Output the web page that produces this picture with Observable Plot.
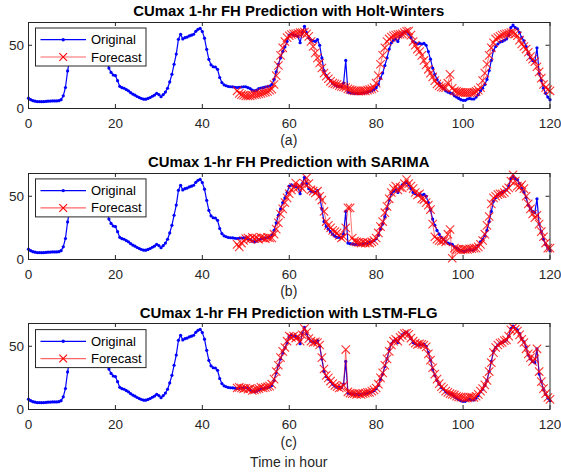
<!DOCTYPE html>
<html><head><meta charset="utf-8">
<script src="https://cdn.jsdelivr.net/npm/d3@7"></script>
<script src="https://cdn.jsdelivr.net/npm/@observablehq/plot@0.6"></script>
<style>
body{margin:0;background:#fff;}
#root{position:relative;width:561px;height:474px;overflow:hidden;background:#fff;font-family:"Liberation Sans",Arial,sans-serif;}
#root svg.panel{position:absolute;left:0;}
#overlay{position:absolute;left:0;top:0;pointer-events:none;}
</style></head><body><div id="root"></div>
<script>
// ---- data (hours, sampled every 0.5 h) ----
const step = 0.5;
const xTicks = [0, 20, 40, 60, 80, 100, 120];
const yTicks = [0, 50];
const titles = ["CUmax 1-hr FH Prediction with Holt-Winters",
                "CUmax 1-hr FH Prediction with SARIMA",
                "CUmax 1-hr FH Prediction with LSTM-FLG"];
const subLabels = ["(a)", "(b)", "(c)"];
const xLabel = "Time in hour";
const seriesNames = ["Original", "Forecast"];

// Original series, t = 0 .. 120
const original = [
 8.2,7,6.2,5.8,5.5,5.5,5.4,5.5,5.6,5.8,5.9,6,6,6,6.2,7,10,16.6,29.7,40,
 47,51,54,55,56,57,58,60,62,59,58,57,56,54,50,44,38,32,28.5,26.5,
 26,22,17.5,16.5,16,15,14,12.5,11.4,10.5,9.5,8.6,7.9,7.4,7.4,8,8.7,9.7,10.6,12,
 11,9.3,11,13,16,21,27,35,43,54.7,58.7,55,56,56.5,57.4,58,58.7,61,62.6,63.3,
 60.8,55.6,46.8,38.9,34.5,33,32.8,31,24.5,20.5,18.7,18,17.4,17.2,17.1,16.8,16.6,16.8,17,17.2,
 17.2,16.5,15.8,14.5,14,14.5,15.8,16.2,16.5,17,17.4,17.8,19,23,29,35,40,45,48.7,53,
 58,59,58,57.8,57,52,60,65,60,56,54,53.5,53,54.5,50,40,30,26,24,22,
 20,18.5,17.5,17.5,17.4,20,38,13,12.5,12.3,12,12,11.8,12,12.3,12.5,13,13.5,14,15,
 16.5,19,24,28,34,40,47,52,54,55,53,57,59,60.5,61,59,56,53,52,51,
 51.5,51,51.5,50,45,39,32,27,23,20,17.4,16,14,13,12.3,12,10,9,8,7,
 6.5,6.5,7.5,8,7.5,7.5,9,11,14,16,19,23,30,38,46,49,51,52.5,53,54,
 55,58,64,66,64,63,60,56,53.5,49,43,40,38,37,48,28,22,16,12,9,
 7
];
// Forecasts, t = 48 .. 120
const holtWinters = [
 14,12,11,10.5,10,10,10,10.5,11,11.2,11.5,12,12.5,13,13.5,14.5,15.3,19,26,34,
 42,48,53,56,57.5,58.5,59,59,59.5,60,60,60.5,59,57,53,49,44,40,36,32,
 28,25.5,23.5,21.5,20,19.5,19,18,17.5,17,16.6,15.5,15,14.5,14,14,13.8,13.8,14,14,
 14.5,15,15.5,16.5,20,26,35,42,48,53,55,56.5,57.4,58,58.5,58.7,59,60,61,61.3,
 58,53,50,47,45,42,38,34.5,31,28,25,22,19.5,18,17,16.6,16.5,20,27,16,
 14,13.5,13,12.8,12.6,12.5,12.5,12.6,12.6,12.8,13.5,14.5,16.5,22,28,35,42,48,52,55,
 56,57,58,58.7,59,59.5,60,60,59,57.5,54,51,49,47,44.5,41,39,37,33,29,
 24,19,16.5,15,14
];
const sarima = [
 12,10,13,15,16.5,17,16,17.5,16.5,17,16,17.5,17,16.5,17.5,17,17,20,24,29,
 36,40,45,48.7,52,55,57,60.5,57,58,56,60,64.5,60,55,54,52.6,54,50,47,
 38,30,27,25,23,22,21,19,17,18,25,40.8,40.8,17,14.5,14,13.5,13,13.5,13,
 13.5,13,14,15,17,21,26,30,37,42,48,53,56,58,55,57,56.6,60,63.2,60,
 58,56,53,51,52,48,47.4,45,43,39.5,28,18,16,15,14.5,15,14,20,23.7,1,
 9,8,8,7.5,8,8,7.9,8.5,8.5,9,9,10,12,15,20,27,34,44,48.7,50,
 51.3,52,52,53,55,56.6,62,67,62,58,57,59,56,50,44,40,36,33,35,28,
 22,18,13,9,9
];
const lstmFlg = [
 17,17.5,17,16.5,17,16,16.5,15,15.5,16,16.5,17.5,17,17.5,18,18.5,20,24,30,35,
 41,46,49,54,58,57,58,56.5,57.5,54,59,64,61,56,54,53,53.5,53,51,41,
 32,27,25,22.5,20.5,19,18,17,17.5,19,47.4,14,13,12.5,12.5,12,12.5,12,12.5,13,
 13.5,13.5,14.5,15.5,17,20,25,29,35,40,46,51,54,55.5,54,57,58.5,60,60.5,59.5,
 56.5,54,52.5,51.5,52,51.5,51,49.5,44,39,33,28,24,20.5,18,16.5,14.5,13.5,12.5,12,
 11.5,10.5,10,9.8,9.5,9,9.2,9.8,9.8,9.5,10.5,12,14.5,16.5,19.5,23,30,37,45,49,
 51,52.5,53,54.5,55,58,63,65,63.5,62,59,55.5,53,48,44,41,38,40,48,30,
 22,16.5,12.5,9.5,8
];

// ---- layout ----
const W = 561, H = 474;
const mL = 28, mR = 11.5, mT = 4, mB = 26, plotH = 86;
const axesTops = [21.7, 172.6, 323.3];
const BLUE = "#0000ff", RED = "#ff0000", AX = "#262626";
const FONT = '"Liberation Sans", Arial, sans-serif';

const origRows = original.map((v, i) => ({t: i * step, v}));
const forecasts = [holtWinters, sarima, lstmFlg];

const root = document.getElementById("root");
const frameW = W - mL - mR;

forecasts.forEach((fc, k) => {
  const fcRows = fc.map((v, i) => ({t: 48 + i * step, v}));
  const svg = Plot.plot({
    width: W, height: mT + plotH + mB,
    marginTop: mT, marginBottom: mB, marginLeft: mL, marginRight: mR,
    x: {domain: [0, 120], label: null},
    y: {domain: [0, 68], label: null},
    style: {fontFamily: FONT, fontSize: "13.5px", color: AX, background: "transparent", overflow: "visible"},
    marks: [
      Plot.line(origRows, {x: "t", y: "v", stroke: BLUE, strokeWidth: 1.2}),
      Plot.dot(origRows, {x: "t", y: "v", r: 1.6, fill: BLUE, stroke: null}),
      Plot.line(fcRows, {x: "t", y: "v", stroke: RED, strokeOpacity: 0.55, strokeWidth: 1}),
      Plot.dot(fcRows, {x: "t", y: "v", symbol: "times", r: 3.9, stroke: RED, strokeOpacity: 0.8, strokeWidth: 1.1}),
      Plot.frame({stroke: AX, strokeWidth: 1}),
      Plot.tickX(xTicks, {x: d => d, insetTop: plotH - 4, stroke: AX}),
      Plot.tickX(xTicks, {x: d => d, insetBottom: plotH - 4, stroke: AX}),
      Plot.tickY(yTicks, {y: d => d, insetRight: frameW - 4, stroke: AX}),
      Plot.tickY(yTicks, {y: d => d, insetLeft: frameW - 4, stroke: AX}),
      Plot.axisX({ticks: xTicks, tickSize: 0, tickPadding: 9.5, fill: AX}),
      Plot.axisY({ticks: yTicks, tickSize: 0, tickPadding: 4.5, fill: AX})
    ]
  });
  svg.classList.add("panel");
  svg.style.top = (axesTops[k] - mT) + "px";
  root.appendChild(svg);
});

// ---- overlay: titles, sub-labels, legends ----
const ov = d3.select(root).append("svg").attr("id", "overlay")
  .attr("width", W).attr("height", H).style("font-family", FONT);
const cx = mL + frameW / 2;
axesTops.forEach((top, k) => {
  ov.append("text").attr("x", cx).attr("y", top - 5.7)
    .attr("text-anchor", "middle").attr("font-weight", "bold").attr("font-size", 14.9)
    .attr("fill", "#000").text(titles[k]);
  ov.append("text").attr("x", cx).attr("y", top + plotH + 37.7)
    .attr("text-anchor", "middle").attr("font-size", 14).attr("fill", AX).text(subLabels[k]);
  const lg = ov.append("g").attr("transform", `translate(35.5,${top + 6.3})`);
  lg.append("rect").attr("width", 110.5).attr("height", 38).attr("fill", "#fff").attr("stroke", AX).attr("stroke-width", 1);
  const rows = [{y: 11.7, c: BLUE}, {y: 29, c: RED}];
  rows.forEach((r, i) => {
    lg.append("line").attr("x1", 5).attr("x2", 50.5).attr("y1", r.y).attr("y2", r.y)
      .attr("stroke", r.c).attr("stroke-opacity", i ? 0.6 : 1).attr("stroke-width", 1.2);
    if (i === 0) lg.append("circle").attr("cx", 27.7).attr("cy", r.y).attr("r", 1.7).attr("fill", BLUE);
    else lg.append("path").attr("d", d3.symbol(d3.symbolTimes, Math.PI * 3.6 * 3.6)())
      .attr("transform", `translate(27.7,${r.y})`).attr("fill", "none").attr("stroke", RED).attr("stroke-width", 1.1);
    lg.append("text").attr("x", 55.5).attr("y", r.y + 4.6).attr("font-size", 13).attr("fill", "#000").text(seriesNames[i]);
  });
});
ov.append("text").attr("x", cx).attr("y", 466.5).attr("text-anchor", "middle")
  .attr("font-size", 14).attr("fill", AX).text(xLabel);
</script></body></html>
